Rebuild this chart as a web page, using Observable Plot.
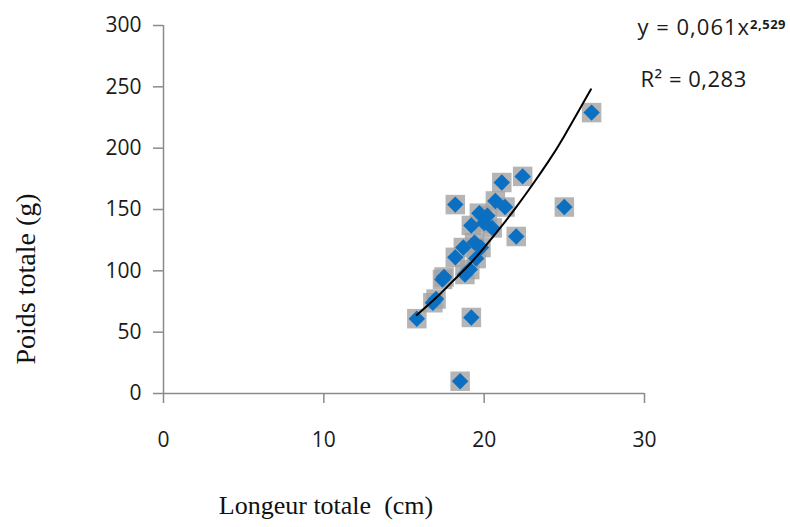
<!DOCTYPE html>
<html><head><meta charset="utf-8">
<script src="https://cdn.jsdelivr.net/npm/d3@7"></script>
<script src="https://cdn.jsdelivr.net/npm/@observablehq/plot@0.6"></script>
<style>body{margin:0;background:#fff;} #chart svg{display:block;}</style>
</head><body><div id="chart"></div>
<script>
const longueur = [15.8, 19.2, 18.5, 18.2, 21.1, 22.4, 25.0, 22.0, 21.3, 20.7, 20.2, 20.5, 19.2, 19.4, 18.2, 18.7, 19.5, 18.8, 17.5, 17.0, 16.8, 26.7, 19.8, 20.0, 19.1, 19.7, 17.4];
const poids    = [61, 62, 10, 154, 172, 177, 152, 128, 152, 157, 145, 135, 137, 123, 111, 119, 110, 97, 95, 77, 74, 229, 119, 139, 101, 147, 93];
// Trend line (power fit) points
const trendX = [15.8, 17, 18, 19, 20, 21, 22, 23, 24, 25, 26.66];
const trendY = [64, 78, 91, 104, 119, 135, 152, 170, 189, 210, 248];
const xTicks = [0, 10, 20, 30];
const yTicks = [0, 50, 100, 150, 200, 250, 300];
const eqText = "y = 0,061x";
const eqExp = "2,529";
const r2Text = "R² = 0,283";
const xLabel = "Longeur totale  (cm)";
const yLabel = "Poids totale (g)";

const pts = longueur.map((x, i) => ({x, y: poids[i]}));
const trend = trendX.map((x, i) => ({x, y: trendY[i]}));
const serif = "'Liberation Serif', 'Times New Roman', serif";
const sans = "'Open Sans', sans-serif";

const chart = Plot.plot({
  width: 790, height: 527,
  marginLeft: 163, marginRight: 146, marginTop: 25, marginBottom: 134,
  style: {background: "#fff", fontFamily: sans},
  x: {domain: [0, 30]},
  y: {domain: [0, 300]},
  marks: [
    Plot.ruleY([0], {stroke: "#8a8a8a", strokeWidth: 1.5}),
    Plot.ruleX([0], {stroke: "#8a8a8a", strokeWidth: 1.5, y1: 0, y2: 300}),
    Plot.axisX({ticks: xTicks, tickSize: 10, tickPadding: 29, label: null, fontSize: 21, stroke: "#8a8a8a", strokeWidth: 1.5, color: "#1a1a1a", tickFormat: d => d}),
    Plot.axisY({ticks: yTicks, tickSize: 10, tickPadding: 12, label: null, fontSize: 21, stroke: "#8a8a8a", strokeWidth: 1.5, color: "#1a1a1a", tickFormat: d => d}),
    Plot.dot(pts, {x: "x", y: "y", symbol: "square", r: 11, fill: "#a3a3a3", fillOpacity: 0.8}),
    Plot.dot(pts, {x: "x", y: "y", symbol: "diamond2", r: 7.4, fill: "#0b6fc2"}),
    Plot.line(trend, {x: "x", y: "y", stroke: "#000", strokeWidth: 2, curve: "natural"}),
    Plot.text([yLabel], {frameAnchor: "left", rotate: -90, dx: -137, fontSize: 28, fontFamily: serif, fill: "#111", className: "ylab"}),
    Plot.text([xLabel], {frameAnchor: "bottom", dx: -78, dy: 120, fontSize: 26, fontFamily: serif, fill: "#111"}),
    Plot.text([eqText], {frameAnchor: "top-right", textAnchor: "start", dx: -7, dy: -6, fontSize: 22, fill: "#1a1a1a", className: "eq"}),
    Plot.text([r2Text], {frameAnchor: "top-right", textAnchor: "start", dx: -4, dy: 46, fontSize: 22, fill: "#1a1a1a", className: "r2"})
  ]
});
document.getElementById("chart").appendChild(chart);
// superscript exponent of the equation
const eq = d3.select(chart).selectAll("g.eq text").attr("letter-spacing", "1px");
eq.append("tspan").attr("dy", "-0.5em").attr("font-size", 13).attr("font-weight", "bold").attr("letter-spacing", "0.5px").text(eqExp);
d3.select(chart).selectAll("g.r2 text").attr("letter-spacing", "0.5px");
// place the rotated y label at its vertical position in the reference layout
const yl = chart.querySelector("g.ylab");
const rect = yl.getBoundingClientRect();
const shift = 279 - (rect.top + rect.height / 2);
yl.setAttribute("transform", `translate(0,${shift}) ` + (yl.getAttribute("transform") || ""));
</script>
</body></html>
